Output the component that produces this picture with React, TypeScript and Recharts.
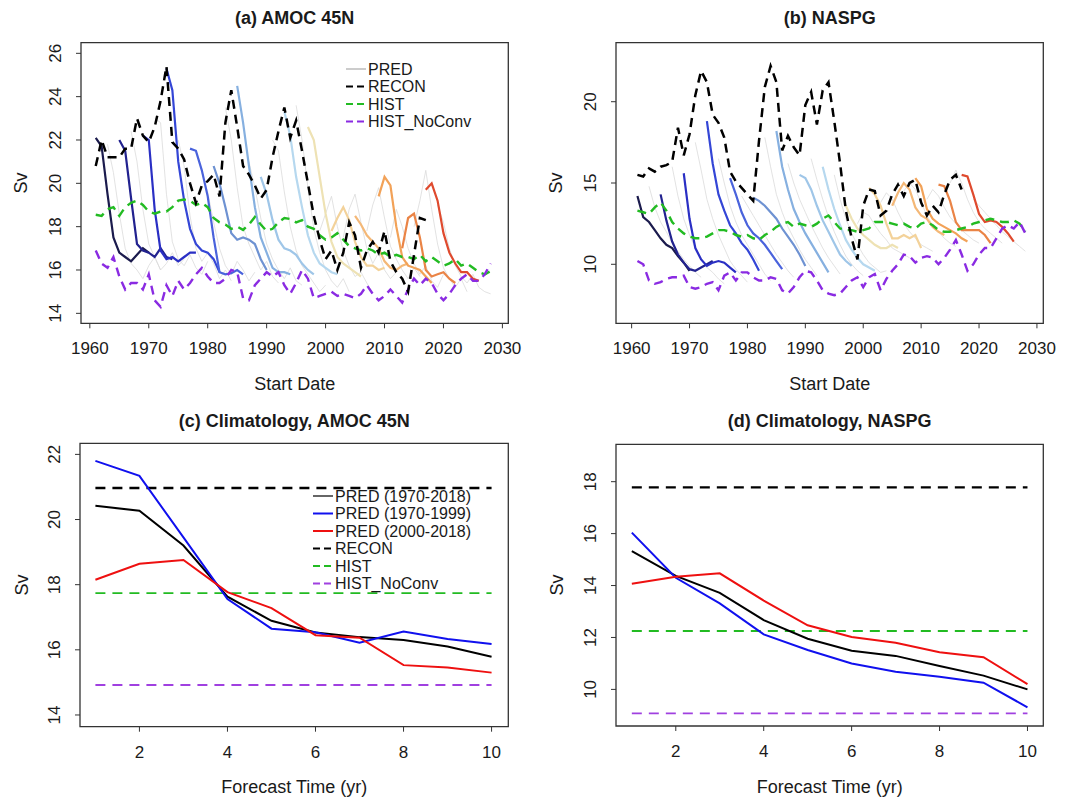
import React from "react";
import { LineChart, Line, XAxis, YAxis, ReferenceArea } from "recharts";

const FONT = "'Liberation Sans', Arial, Helvetica, sans-serif";
const TXT = "#1a1a1a";

// ---------------- shared ----------------
const forecastStarts = [1961, 1965, 1969, 1973, 1977, 1981, 1985, 1989, 1993, 1997, 2001, 2005, 2009, 2013, 2017];
const memberStarts = [1963, 1967, 1971, 1975, 1979, 1983, 1987, 1991, 1995, 1999, 2003, 2007, 2011, 2015, 2019];
const reconStart = 1961;
const histStart = 1961;
const xTicksAB = [1960, 1970, 1980, 1990, 2000, 2010, 2020, 2030];
const leadTimes = [1, 2, 3, 4, 5, 6, 7, 8, 9, 10];
const xTicksCD = [2, 4, 6, 8, 10];

// ---------------- (a) AMOC 45N ----------------
const reconA = [20.8, 22.0, 21.2, 21.2, 21.2, 21.6, 21.6, 23.0, 22.2, 21.9, 22.6, 23.8, 25.4, 21.9, 21.6, 21.1, 20.0, 19.1, 19.9, 20.1, 20.4, 19.4, 22.8, 24.3, 22.6, 20.8, 20.4, 19.9, 19.3, 19.7, 21.2, 22.4, 23.5, 22.1, 22.9, 21.5, 20.0, 18.5, 17.4, 16.5, 16.9, 16.0, 16.8, 18.2, 17.6, 16.1, 16.9, 17.3, 16.8, 17.8, 16.4, 15.9, 15.6, 15.0, 16.7, 18.4, 18.3];
const histA = [18.55, 18.5, 18.8, 18.9, 18.5, 18.9, 19.1, 19.2, 19.0, 18.7, 18.6, 18.7, 18.7, 18.9, 19.2, 19.25, 19.2, 19.0, 19.1, 18.9, 18.4, 18.2, 18.1, 17.9, 18.0, 17.85, 18.1, 18.45, 18.1, 17.8, 17.9, 18.2, 18.4, 18.35, 18.2, 18.3, 18.0, 17.9, 17.6, 17.4, 17.5, 17.7, 17.4, 17.1, 17.0, 16.9, 17.0, 16.9, 16.7, 16.8, 16.6, 16.7, 16.6, 16.6, 16.5, 16.7, 16.4, 16.6, 16.4, 16.2, 16.3, 16.5, 16.2, 16.3, 16.1, 15.9, 15.8, 15.95];
const noConvA = [16.9, 16.3, 16.1, 16.6, 15.7, 15.1, 15.4, 15.4, 15.1, 15.8, 14.6, 14.3, 15.3, 14.8, 15.5, 15.1, 15.4, 15.8, 16.1, 15.7, 15.4, 15.4, 15.6, 16.0, 15.9, 14.7, 14.6, 15.3, 15.6, 15.9, 15.7, 15.9, 15.3, 14.9, 15.4, 16.0, 15.6, 14.7, 14.8, 14.9, 15.0, 14.8, 14.9, 14.8, 14.7, 14.9, 15.3, 14.9, 14.6, 14.8, 15.1, 14.8, 14.5, 15.1, 15.6, 15.3, 15.6, 15.4, 14.9, 14.6, 14.9, 15.3, 15.6, 15.8, 15.5, 15.5, 15.8, 16.3];
const forecastsA = [
  [22.1, 21.7, 19.5, 17.5, 16.8, 16.6, 16.4, 16.7, 17.0, 16.8],
  [22.0, 21.5, 19.3, 17.2, 16.9, 16.8, 16.6, 17.0, 16.6, 16.5],
  [22.2, 22.0, 18.8, 16.9, 16.5, 16.6, 16.4, 16.6, 16.8, 16.8],
  [25.3, 24.3, 21.0, 19.2, 17.9, 17.2, 16.9, 16.8, 16.5, 15.9],
  [21.6, 21.5, 20.6, 19.4, 17.5, 15.9, 15.8, 15.85, 16.0, 15.8],
  [20.8, 20.0, 18.9, 17.7, 17.4, 17.5, 17.4, 17.2, 16.5, 16.0],
  [24.5, 22.8, 20.8, 18.9, 17.5, 16.8, 16.1, 15.9, 15.9, 15.8],
  [20.3, 19.5, 18.3, 17.4, 17.0, 16.9, 16.7, 16.3, 16.0, 15.8],
  [23.3, 22.2, 20.3, 18.9, 17.6, 16.8, 16.3, 16.1, 15.9, 15.8],
  [22.6, 22.0, 20.3, 18.6, 17.3, 16.6, 16.3, 16.1, 15.9, 15.7],
  [17.8, 18.4, 18.9, 18.3, 17.3, 16.6, 16.2, 16.2, 16.0, 16.1],
  [18.5, 18.1, 17.6, 17.3, 17.0, 16.4, 16.1, 16.0, 16.2, 16.3],
  [19.4, 20.3, 19.9, 18.0, 16.6, 16.2, 16.1, 16.0, 15.7, 15.4],
  [17.0, 18.4, 18.6, 17.5, 16.0, 15.7, 15.8, 15.9, 15.6, 15.4],
  [19.7, 20.0, 19.2, 17.7, 16.8, 16.3, 15.9, 15.9, 15.6, 15.5],
];
const membersA = [
  [21.8, 20.5, 18.6, 17.0, 16.3, 16.0, 15.6, 16.2, 16.6, 16.0],
  [22.4, 21.0, 18.8, 17.2, 16.6, 16.0, 16.3, 16.8, 16.2, 16.5],
  [23.0, 22.8, 19.5, 17.3, 16.5, 16.2, 16.7, 16.1, 15.8, 16.4],
  [22.0, 20.8, 18.5, 17.0, 16.4, 16.8, 16.3, 15.6, 16.0, 15.5],
  [20.5, 19.6, 18.2, 17.0, 16.2, 15.8, 16.4, 16.0, 15.5, 15.9],
  [23.5, 22.0, 19.8, 18.0, 17.2, 16.6, 16.0, 16.4, 15.7, 15.4],
  [21.0, 19.8, 18.4, 17.2, 16.5, 16.0, 15.6, 16.1, 15.5, 15.3],
  [22.0, 21.5, 19.6, 18.0, 16.9, 16.2, 15.8, 15.4, 15.0, 15.3],
  [23.6, 22.0, 19.8, 17.9, 16.8, 16.0, 15.5, 15.2, 15.6, 15.0],
  [17.8, 18.6, 19.4, 18.0, 16.9, 16.2, 15.7, 15.9, 15.4, 14.9],
  [17.5, 18.8, 19.5, 18.2, 17.0, 16.3, 16.8, 16.0, 15.6, 15.9],
  [17.8, 19.0, 19.8, 18.4, 17.1, 16.5, 16.0, 15.6, 16.1, 15.7],
  [17.5, 18.8, 18.0, 17.0, 16.3, 15.8, 16.2, 15.5, 15.2, 15.8],
  [18.0, 19.2, 20.6, 18.8, 17.2, 16.1, 15.6, 15.2, 15.6, 15.0],
  [19.0, 18.2, 17.0, 16.2, 15.7, 15.4, 15.8, 15.2, 15.0, 14.9],
];
const yTicksA = [14, 16, 18, 20, 22, 24, 26];

// ---------------- (b) NASPG ----------------
const reconB = [15.5, 15.4, 15.9, 15.7, 16.0, 16.1, 16.3, 18.4, 16.7, 18.0, 20.4, 21.9, 21.2, 19.2, 18.7, 17.8, 15.7, 15.1, 14.7, 14.3, 13.9, 17.6, 20.9, 22.2, 21.2, 17.0, 17.9, 17.2, 16.7, 19.8, 20.6, 18.6, 20.7, 21.2, 18.8, 16.2, 13.3, 11.6, 10.3, 13.6, 14.6, 14.5, 13.0, 13.3, 14.3, 14.9, 14.2, 15.0, 15.2, 13.8, 13.0, 13.6, 13.2, 14.3, 15.2, 15.5, 14.6];
const histB = [13.3, 13.2, 13.1, 13.5, 13.8, 13.3, 12.6, 12.2, 11.9, 11.7, 11.6, 11.6, 11.7, 11.9, 12.1, 12.1, 12.0, 11.8, 11.7, 11.8, 11.6, 11.5, 11.8, 12.0, 12.3, 12.5, 12.6, 12.3, 12.5, 12.4, 12.3, 12.5, 12.8, 13.0, 12.6, 12.2, 12.1, 12.1, 12.0, 12.1, 12.2, 12.6, 12.6, 12.6, 12.5, 12.4, 12.5, 12.3, 12.2, 12.5, 12.6, 12.4, 12.1, 12.0, 12.0, 12.1, 12.2, 12.3, 12.5, 12.6, 12.7, 12.8, 12.7, 12.6, 12.6, 12.7, 12.5, 12.0];
const noConvB = [10.2, 10.0, 9.0, 8.8, 8.9, 9.1, 9.2, 9.2, 9.3, 8.6, 8.5, 8.6, 8.8, 8.9, 8.4, 9.3, 9.5, 9.0, 9.5, 9.5, 9.2, 9.0, 9.0, 9.2, 9.1, 8.4, 8.2, 8.6, 9.2, 9.6, 9.5, 9.0, 8.4, 8.2, 8.1, 8.2, 8.6, 9.0, 9.2, 8.6, 9.2, 9.4, 8.4, 9.1, 9.6, 10.0, 10.6, 10.5, 10.1, 10.4, 10.5, 10.4, 10.0, 10.4, 10.9, 11.5, 10.6, 9.6, 10.0, 10.6, 11.0, 11.0, 11.6, 12.2, 12.4, 12.2, 12.6, 11.9];
const forecastsB = [
  [14.2, 12.9, 12.6, 12.1, 11.6, 11.2, 11.0, 10.5, 10.1, 9.6],
  [14.3, 12.7, 11.4, 10.6, 10.1, 9.7, 9.6, 9.8, 10.0, 10.2],
  [15.6, 12.8, 11.0, 10.3, 9.9, 10.1, 10.2, 10.1, 9.8, 9.5],
  [18.8, 16.2, 14.3, 13.3, 12.4, 11.9, 11.3, 10.9, 10.3, 9.6],
  [15.3, 14.3, 13.2, 12.4, 11.9, 11.6, 11.2, 10.7, 10.2, 9.7],
  [14.1, 13.9, 13.6, 13.2, 12.8, 12.2, 11.7, 11.2, 10.6, 9.9],
  [18.2, 16.0, 14.6, 13.4, 12.6, 11.9, 11.3, 10.7, 10.1, 9.5],
  [15.5, 15.3, 14.6, 13.6, 12.7, 12.0, 11.3, 10.6, 10.2, 9.9],
  [16.0, 14.6, 13.4, 12.4, 11.5, 10.9, 10.4, 10.0, 9.8, 9.6],
  [13.6, 12.8, 12.2, 11.8, 11.5, 11.2, 11.0, 11.0, 11.2, 11.0],
  [14.7, 14.3, 13.6, 12.5, 11.6, 11.6, 11.8, 11.6, 11.8, 11.0],
  [13.6, 14.4, 15.0, 14.6, 13.5, 13.0, 12.8, 12.3, 12.0, 11.8],
  [15.3, 14.8, 13.4, 12.8, 12.5, 12.3, 12.1, 11.9, 11.6, 11.4],
  [14.9, 14.8, 13.9, 12.6, 12.1, 12.1, 12.1, 12.1, 11.8, 11.3],
  [15.5, 15.4, 14.3, 13.1, 12.6, 12.7, 12.6, 12.3, 11.9, 11.4],
];
const membersB = [
  [14.8, 13.5, 12.6, 12.0, 11.3, 10.8, 10.3, 9.9, 9.5, 9.2],
  [16.0, 14.2, 12.8, 11.8, 11.0, 10.4, 9.8, 9.5, 9.1, 8.8],
  [17.5, 15.8, 14.0, 12.8, 11.8, 11.0, 10.2, 9.7, 9.3, 8.9],
  [16.5, 15.0, 13.6, 12.6, 11.8, 11.2, 10.6, 10.0, 9.4, 9.0],
  [14.2, 13.6, 13.0, 12.4, 11.8, 11.2, 10.6, 10.1, 9.6, 9.2],
  [17.8, 16.0, 14.3, 13.2, 12.3, 11.6, 10.9, 10.3, 9.8, 9.3],
  [16.2, 15.0, 14.0, 13.2, 12.4, 11.7, 11.0, 10.4, 9.9, 9.4],
  [16.5, 15.2, 14.0, 12.9, 12.0, 11.2, 10.5, 10.0, 9.6, 9.3],
  [15.5, 14.0, 12.8, 11.9, 11.2, 10.6, 10.1, 9.8, 9.5, 9.6],
  [12.5, 13.2, 13.0, 12.4, 11.9, 11.5, 11.0, 10.8, 10.6, 10.4],
  [13.8, 14.4, 14.0, 13.2, 12.5, 12.0, 11.6, 11.2, 11.0, 10.8],
  [14.5, 15.0, 14.6, 13.8, 13.0, 12.4, 12.0, 11.6, 11.3, 11.1],
  [14.0, 14.6, 14.2, 13.5, 12.9, 12.5, 12.1, 11.8, 11.5, 11.3],
  [15.0, 15.8, 15.0, 14.0, 13.2, 12.6, 12.2, 11.9, 11.6, 11.3],
  [14.0, 13.6, 13.2, 12.8, 12.4, 12.0, 11.7, 11.4, 11.1, 10.8],
];
const yTicksB = [10, 15, 20];

// ---------------- (c) Climatology AMOC 45N ----------------
const predAllC = [20.42, 20.27, 19.2, 17.63, 16.89, 16.53, 16.39, 16.3, 16.1, 15.79];
const predEarlyC = [21.8, 21.34, 19.45, 17.56, 16.65, 16.54, 16.22, 16.56, 16.33, 16.18];
const predLateC = [18.15, 18.64, 18.76, 17.77, 17.28, 16.45, 16.37, 15.53, 15.46, 15.3];
const reconClimC = 20.97;
const histClimC = 17.74;
const noConvClimC = 14.92;
const yTicksC = [14, 16, 18, 20, 22];

// ---------------- (d) Climatology NASPG ----------------
const predAllD = [15.33, 14.37, 13.72, 12.67, 11.95, 11.49, 11.29, 10.9, 10.53, 10.0];
const predEarlyD = [16.04, 14.3, 13.31, 12.12, 11.52, 11.0, 10.68, 10.49, 10.26, 9.31];
const predLateD = [14.07, 14.34, 14.47, 13.42, 12.47, 12.02, 11.8, 11.43, 11.24, 10.2];
const reconClimD = 17.78;
const histClimD = 12.25;
const noConvClimD = 9.08;
const yTicksD = [10, 12, 14, 16, 18];

// ---------------- styles ----------------
const forecastColors = ["#1b1b4d", "#22228f", "#2a2fc4", "#3446d6", "#4a63dc", "#6e92d2", "#86b0e0", "#9fc6e8", "#b6d8ef", "#eee2b4", "#f3d29a", "#f4b877", "#f2a258", "#ea8446", "#df4a2e"];
const GREEN = "#22bb22";
const PURPLE = "#8a2be2";
const PURPLE_CLIM = "#a040e0";

type Row = { [k: string]: number };
type Series = { key: string; start: number; values: number[] };

function buildRows(series: Series[]): Row[] {
  const map = new Map<number, Row>();
  for (const s of series) {
    s.values.forEach((v, i) => {
      const x = s.start + i;
      if (!map.has(x)) map.set(x, { x });
      map.get(x)![s.key] = v;
    });
  }
  return Array.from(map.values()).sort((a, b) => a.x - b.x);
}

function timeRows(recon: number[], hist: number[], noConv: number[], forecasts: number[][], members: number[][]): Row[] {
  const s: Series[] = [
    { key: "recon", start: reconStart, values: recon },
    { key: "hist", start: histStart, values: hist },
    { key: "noconv", start: histStart, values: noConv },
  ];
  forecasts.forEach((v, i) => s.push({ key: "f" + i, start: forecastStarts[i], values: v }));
  members.forEach((v, i) => s.push({ key: "g" + i, start: memberStarts[i], values: v }));
  return buildRows(s);
}

function climRows(all: number[], early: number[], late: number[], recon: number, hist: number, noConv: number): Row[] {
  return leadTimes.map((t, i) => ({ x: t, all: all[i], early: early[i], late: late[i], recon, hist, noconv: noConv }));
}

const rowsA = timeRows(reconA, histA, noConvA, forecastsA, membersA);
const rowsB = timeRows(reconB, histB, noConvB, forecastsB, membersB);
const rowsC = climRows(predAllC, predEarlyC, predLateC, reconClimC, histClimC, noConvClimC);
const rowsD = climRows(predAllD, predEarlyD, predLateD, reconClimD, histClimD, noConvClimD);

const XTick = (p: any) => (
  <text x={p.x} y={p.y} textAnchor="middle" fontSize={17} fontFamily={FONT} fill={TXT}>
    {p.payload.value}
  </text>
);
const YTick = (p: any) => (
  <text transform={`translate(${p.x},${p.y}) rotate(-90)`} x={0} y={0} textAnchor="middle" fontSize={17} fontFamily={FONT} fill={TXT}>
    {p.payload.value}
  </text>
);

type PanelProps = {
  rows: Row[];
  xDomain: [number, number];
  yDomain: [number, number];
  xTicks: number[];
  yTicks: number[];
  margin: { top: number; right: number; bottom: number; left: number };
  height: number;
  children: React.ReactNode;
};

function renderPanel({ rows, xDomain, yDomain, xTicks, yTicks, margin, height, children }: PanelProps) {
  return (
    <LineChart width={537} height={height} data={rows} margin={margin}>
      <XAxis dataKey="x" type="number" domain={xDomain} ticks={xTicks} allowDataOverflow interval={0} height={60} tickSize={5} tickMargin={26} axisLine={false} tickLine={{ stroke: "#333" }} tick={XTick} />
      <YAxis type="number" domain={yDomain} ticks={yTicks} allowDataOverflow interval={0} width={60} tickSize={5} tickMargin={15} axisLine={false} tickLine={{ stroke: "#333" }} tick={YTick} />
      {children}
      <ReferenceArea x1={xDomain[0]} x2={xDomain[1]} y1={yDomain[0]} y2={yDomain[1]} fill="none" stroke="#333" strokeWidth={1.3} ifOverflow="visible" />
    </LineChart>
  );
}

function timeLines(nMembers: number, nForecasts: number) {
  const out: React.ReactNode[] = [];
  for (let i = 0; i < nMembers; i++) {
    out.push(<Line key={"g" + i} dataKey={"g" + i} type="linear" stroke="#dadada" strokeWidth={0.8} dot={false} activeDot={false} isAnimationActive={false} />);
  }
  for (let i = 0; i < nForecasts; i++) {
    out.push(<Line key={"f" + i} dataKey={"f" + i} type="linear" stroke={forecastColors[i]} strokeWidth={2.2} dot={false} activeDot={false} isAnimationActive={false} />);
  }
  out.push(<Line key="hist" dataKey="hist" type="linear" stroke={GREEN} strokeWidth={2.4} strokeDasharray="9 6" dot={false} activeDot={false} isAnimationActive={false} />);
  out.push(<Line key="noconv" dataKey="noconv" type="linear" stroke={PURPLE} strokeWidth={2.4} strokeDasharray="9 6" dot={false} activeDot={false} isAnimationActive={false} />);
  out.push(<Line key="recon" dataKey="recon" type="linear" stroke="#000" strokeWidth={2.5} strokeDasharray="9 6" dot={false} activeDot={false} isAnimationActive={false} />);
  return out;
}

function climLines() {
  return [
    <Line key="recon" dataKey="recon" type="linear" stroke="#000" strokeWidth={2.4} strokeDasharray="10 7" dot={false} activeDot={false} isAnimationActive={false} />,
    <Line key="hist" dataKey="hist" type="linear" stroke={GREEN} strokeWidth={1.8} strokeDasharray="10 7" dot={false} activeDot={false} isAnimationActive={false} />,
    <Line key="noconv" dataKey="noconv" type="linear" stroke={PURPLE_CLIM} strokeWidth={1.8} strokeDasharray="10 7" dot={false} activeDot={false} isAnimationActive={false} />,
    <Line key="all" dataKey="all" type="linear" stroke="#000" strokeWidth={2} dot={false} activeDot={false} isAnimationActive={false} />,
    <Line key="early" dataKey="early" type="linear" stroke="#1010ee" strokeWidth={2} dot={false} activeDot={false} isAnimationActive={false} />,
    <Line key="late" dataKey="late" type="linear" stroke="#ee1010" strokeWidth={2} dot={false} activeDot={false} isAnimationActive={false} />,
  ];
}

const legendA = [
  { label: "PRED", color: "#bbbbbb", dash: undefined as string | undefined, w: 1.5 },
  { label: "RECON", color: "#000", dash: "7 4", w: 2 },
  { label: "HIST", color: GREEN, dash: "7 4", w: 2 },
  { label: "HIST_NoConv", color: PURPLE, dash: "7 4", w: 2 },
];
const legendC = [
  { label: "PRED (1970-2018)", color: "#333", dash: undefined as string | undefined, w: 1.5 },
  { label: "PRED (1970-1999)", color: "#1010ee", dash: undefined as string | undefined, w: 2 },
  { label: "PRED (2000-2018)", color: "#ee1010", dash: undefined as string | undefined, w: 2 },
  { label: "RECON", color: "#000", dash: "7 4", w: 2 },
  { label: "HIST", color: GREEN, dash: "7 4", w: 2 },
  { label: "HIST_NoConv", color: PURPLE_CLIM, dash: "7 4", w: 2 },
];

function LegendBlock({ items, x, y, gap }: { items: typeof legendA; x: number; y: number; gap: number }) {
  return (
    <g>
      {items.map((it, i) => (
        <g key={it.label}>
          <line x1={x} x2={x + 20} y1={y + i * gap} y2={y + i * gap} stroke={it.color} strokeWidth={it.w} strokeDasharray={it.dash} />
          <text x={x + 22} y={y + i * gap + 5.7} fontSize={16} fontFamily={FONT} fill={TXT}>
            {it.label}
          </text>
        </g>
      ))}
    </g>
  );
}

function Texts() {
  const title = (x: number, y: number, s: string) => (
    <text x={x} y={y} textAnchor="middle" fontSize={18} fontWeight="bold" fontFamily={FONT} fill={TXT}>{s}</text>
  );
  const label = (x: number, y: number, s: string) => (
    <text x={x} y={y} textAnchor="middle" fontSize={18} fontFamily={FONT} fill={TXT}>{s}</text>
  );
  const vlabel = (x: number, y: number, s: string) => (
    <text transform={`translate(${x},${y}) rotate(-90)`} textAnchor="middle" fontSize={18} fontFamily={FONT} fill={TXT}>{s}</text>
  );
  return (
    <svg width={1075} height={797} style={{ position: "absolute", left: 0, top: 0, pointerEvents: "none" }}>
      {title(294.7, 23.5, "(a) AMOC 45N")}
      {title(829.7, 23.5, "(b) NASPG")}
      {title(294.2, 426.5, "(c) Climatology, AMOC 45N")}
      {title(829.7, 426.5, "(d) Climatology, NASPG")}
      {label(294.7, 389.5, "Start Date")}
      {label(829.7, 389.5, "Start Date")}
      {label(294.2, 793, "Forecast Time (yr)")}
      {label(829.7, 793, "Forecast Time (yr)")}
      {vlabel(26.5, 183, "Sv")}
      {vlabel(562, 183, "Sv")}
      {vlabel(28, 585, "Sv")}
      {vlabel(563, 585, "Sv")}
      <LegendBlock items={legendA} x={346} y={69} gap={17.5} />
      <LegendBlock items={legendC} x={313} y={496} gap={17.5} />
    </svg>
  );
}

export default function App() {
  return (
    <div style={{ position: "absolute", left: 0, top: 0, width: 1075, height: 797, background: "#fff", overflow: "hidden" }}>
      <div style={{ position: "absolute", left: 0, top: 0 }}>
        {renderPanel({
          rows: rowsA, xDomain: [1958.5, 2031.0], yDomain: [13.54, 26.49], xTicks: xTicksAB, yTicks: yTicksA,
          margin: { top: 42.7, right: 28.7, bottom: 16.7, left: 21 }, height: 400,
          children: timeLines(membersA.length, forecastsA.length),
        })}
      </div>
      <div style={{ position: "absolute", left: 535, top: 0 }}>
        {renderPanel({
          rows: rowsB, xDomain: [1957.3, 2031.1], yDomain: [6.37, 23.63], xTicks: xTicksAB, yTicks: yTicksB,
          margin: { top: 42.7, right: 28.7, bottom: 16.7, left: 21 }, height: 400,
          children: timeLines(membersB.length, forecastsB.length),
        })}
      </div>
      <div style={{ position: "absolute", left: 0, top: 400 }}>
        {renderPanel({
          rows: rowsC, xDomain: [0.65, 10.38], yDomain: [13.64, 22.34], xTicks: xTicksCD, yTicks: yTicksC,
          margin: { top: 43.3, right: 28.7, bottom: 10.3, left: 20 }, height: 397,
          children: climLines(),
        })}
      </div>
      <div style={{ position: "absolute", left: 535, top: 400 }}>
        {renderPanel({
          rows: rowsD, xDomain: [0.64, 10.36], yDomain: [8.59, 19.44], xTicks: xTicksCD, yTicks: yTicksD,
          margin: { top: 44.3, right: 28.7, bottom: 11, left: 21 }, height: 397,
          children: climLines(),
        })}
      </div>
      <Texts />
    </div>
  );
}
